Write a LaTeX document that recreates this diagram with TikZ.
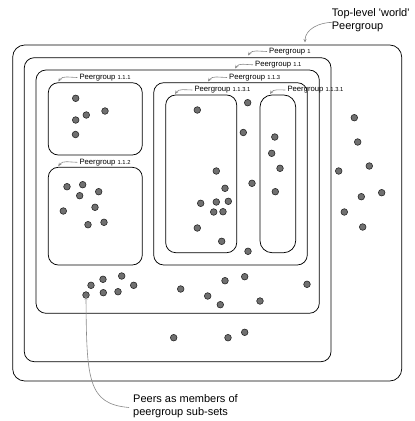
\documentclass[tikz,border=0pt]{standalone}
\usepackage{fontspec}
\setmainfont{Liberation Sans}
\usetikzlibrary{fit,arrows.meta}
\definecolor{peerfill}{HTML}{707070}
\definecolor{pointer}{HTML}{8A8A8A}
\tikzset{
  grpbox/.style={draw=black, line width=0.75pt, rounded corners=10pt, inner sep=0pt},
  peer/.style={circle, draw=black!85, line width=0.6pt, fill=peerfill, minimum size=6.6pt, inner sep=0pt},
  grplabel/.style={anchor=west, inner sep=0pt, font=\fontsize{7.7}{9}\selectfont},
  note/.style={anchor=west, inner sep=0pt, align=left, font=\fontsize{11}{13}\selectfont},
  pointer/.style={draw=pointer, line width=0.6pt, -{Stealth[length=3.5pt,width=3pt]}},
}
\newcommand{\grpnum}[1]{{\fontsize{5.8}{7}\selectfont #1}}
\begin{document}
\begin{tikzpicture}[x=1pt,y=-1pt]
  \useasboundingbox (0,0) rectangle (415,421);

  % nested peergroup boundaries
  \node[grpbox, rounded corners=12pt, fit={(12.7,45) (401.7,381)}] (world) {};
  \node[grpbox, fit={(24.3,57.7) (331,361.7)}] (pg1) {};
  \node[grpbox, fit={(36,70) (319.3,313.3)}] (pg11) {};
  \node[grpbox, fit={(48.3,82.7) (142.3,155)}] (pg111) {};
  \node[grpbox, fit={(48.3,167.3) (142.3,265)}] (pg112) {};
  \node[grpbox, fit={(153.7,82.7) (307.3,265)}] (pg113) {};
  \node[grpbox, fit={(165.7,95) (236.7,252.7)}] (pg1131a) {};
  \node[grpbox, rounded corners=12pt, fit={(260,95) (295.7,252.7)}] (pg1131b) {};

  % group labels
  \node[grplabel] (l1)     at (269,51.5)  {Peergroup \grpnum{1}};
  \node[grplabel] (l11)    at (255,64.8)  {Peergroup \grpnum{1.1}};
  \node[grplabel] (l111)   at (79.3,77.5) {Peergroup \grpnum{1.1.1}};
  \node[grplabel] (l113)   at (229,77.5)  {Peergroup \grpnum{1.1.3}};
  \node[grplabel] (l1131a) at (194.3,90)  {Peergroup \grpnum{1.1.3.1}};
  \node[grplabel] (l1131b) at (287.3,90)  {Peergroup \grpnum{1.1.3.1}};
  \node[grplabel] (l112)   at (79.3,162.3){Peergroup \grpnum{1.1.2}};

  \coordinate (t1)     at (248,55.5);
  \coordinate (t11)    at (235,68.5);
  \coordinate (t111)   at (58.3,81.5);
  \coordinate (t113)   at (208,81.5);
  \coordinate (t1131a) at (175,94);
  \coordinate (t1131b) at (270,94);
  \coordinate (t112)   at (58.3,166.2);

  \draw[pointer] ([xshift=-2pt]l1.west)     to[out=180,in=55] (t1);
  \draw[pointer] ([xshift=-2pt]l11.west)    to[out=180,in=55] (t11);
  \draw[pointer] ([xshift=-2pt]l111.west)   to[out=180,in=55] (t111);
  \draw[pointer] ([xshift=-2pt]l113.west)   to[out=180,in=55] (t113);
  \draw[pointer] ([xshift=-2pt]l1131a.west) to[out=180,in=55] (t1131a);
  \draw[pointer] ([xshift=-2pt]l1131b.west) to[out=180,in=55] (t1131b);
  \draw[pointer] ([xshift=-2pt]l112.west)   to[out=180,in=55] (t112);

  % annotations
  \node[note] (top) at (331.7,20.5) {Top-level \textquotesingle world\textquotesingle\\Peergroup};
  \coordinate (ttop) at (305,42.5);
  \draw[pointer] (333,22.3) to[out=180,in=90] (ttop);

  \node[note] (peers) at (133,406.5) {Peers as members of\\peergroup sub-sets};

  % peers
  \foreach \px/\py [count=\i] in {
      75.7/98.3, 86.3/115, 105/111, 75.7/120, 75.5/134.5,
      67/186.7, 82.7/184.7, 98.7/191.7, 79.7/195.7, 63.3/211, 95/207.3, 88/224.7, 104/222.3,
      197.3/110, 216.3/171, 225/188.3, 200.7/203.3, 216.3/202, 228.3/201.3,
      213.7/212, 223/211.7, 197.3/228, 221.7/241.3,
      247.7/102.7, 243.3/132.5, 252/183.3, 248/251.3,
      274.8/137, 271.7/153.3, 280/168.3, 275.3/191.7,
      354.3/117.7, 357.7/142, 338.7/171, 369.3/166, 361.3/196.7, 381.7/192.7, 344.3/212, 362.7/227,
      103/279.3, 121.7/276, 91/285.3, 133.7/285.3, 103.3/292.7, 118/291.7, 86/295,
      180.7/289, 225/280.7, 244.7/276.7, 207.7/296, 220.3/304.7, 260/301, 307/284.3,
      173.7/337.7, 228/337.7, 244.7/332.3}
    \node[peer] (p\i) at (\px,\py) {};

  \draw[pointer] ([xshift=-4pt,yshift=-1pt]peers.west)
    .. controls (88,404) and (86.5,380) .. ([yshift=2.5pt]p46.south);
\end{tikzpicture}
\end{document}
